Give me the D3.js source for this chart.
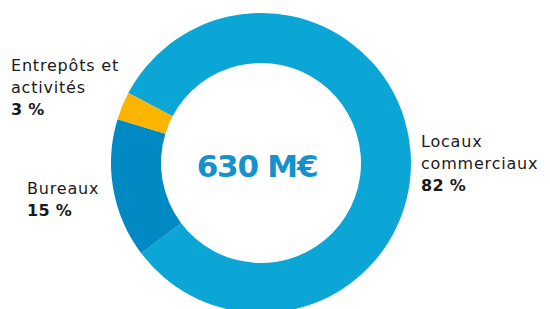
<!DOCTYPE html>
<html>
<head>
<meta charset="utf-8">
<script src="https://cdn.jsdelivr.net/npm/d3@7"></script>
<style>
  body { margin: 0; background: #fff; }
  svg { display: block; }
  .lbl { font-family: "DejaVu Sans", sans-serif; font-size: 16px; letter-spacing: 0.8px; fill: #1a1a1a; }
  .pct { font-weight: bold; letter-spacing: 0.3px; }
</style>
</head>
<body>
<div id="container"></div>
<script>
// chart data
const categories = ["Locaux commerciaux", "Bureaux", "Entrepôts et activités"];
const values = [82, 15, 3];
const colors = ["#0BA5D6", "#0089C3", "#FBB500"];
const labelLines = [["Locaux", "commerciaux"], ["Bureaux"], ["Entrepôts et", "activités"]];
const total = "630 M€";

const width = 550, height = 309;
const cx = 261, cy = 163;
const outerR = 150, innerR = 100;

// label anchors (x of first char, baseline of first line)
const labelPos = [[421, 147], [27, 194], [11, 71]];
const lineH = 22;

const svg = d3.select("#container").append("svg")
    .attr("width", width)
    .attr("height", height);

const g = svg.append("g").attr("transform", `translate(${cx},${cy})`);

// pie starts so the yellow slice ends at ~-62deg
const startA = -62.2 * Math.PI / 180;
const pie = d3.pie().sort(null).value(d => d)
    .startAngle(startA).endAngle(startA + 2 * Math.PI);
const arc = d3.arc().innerRadius(innerR).outerRadius(outerR);

g.selectAll("path")
    .data(pie(values))
    .enter().append("path")
    .attr("d", arc)
    .attr("fill", (d, i) => colors[i]);

// center total
g.append("text")
    .attr("text-anchor", "middle")
    .attr("x", -4)
    .attr("y", 14)
    .style("font-family", "'DejaVu Sans', sans-serif")
    .style("font-weight", "bold")
    .style("font-size", "31px")
    .style("letter-spacing", "-1.2px")
    .style("fill", "#1591CC")
    .text(total);

// labels
categories.forEach(function(c, i) {
    const t = svg.append("text")
        .attr("class", "lbl")
        .attr("x", labelPos[i][0])
        .attr("y", labelPos[i][1]);
    labelLines[i].forEach(function(line, j) {
        t.append("tspan")
            .attr("x", labelPos[i][0])
            .attr("dy", j === 0 ? 0 : lineH)
            .text(line);
    });
    t.append("tspan")
        .attr("class", "pct")
        .attr("x", labelPos[i][0])
        .attr("dy", lineH)
        .text(values[i] + " %");
});
</script>
</body>
</html>
